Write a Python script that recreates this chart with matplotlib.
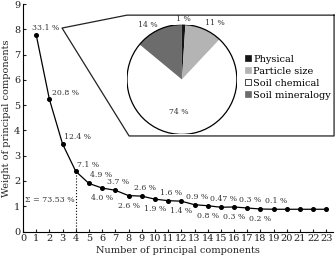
import numpy as np
import matplotlib.pyplot as plt
from matplotlib.lines import Line2D
from matplotlib.patches import Circle

plt.rcParams['font.family'] = ['DejaVu Serif']

#%% data
components = np.arange(1, 24)
weights = [7.78, 5.23, 3.46, 2.38, 1.90, 1.72, 1.63, 1.42, 1.40, 1.28, 1.22, 1.20,
           1.06, 1.02, 0.96, 0.97, 0.93, 0.89, 0.88, 0.88, 0.88, 0.88, 0.88]
variance_labels = ['33.1 %', '20.8 %', '12.4 %', '7.1 %', '4.9 %', '4.0 %', '3.7 %',
                   '2.6 %', '2.6 %', '1.9 %', '1.6 %', '1.4 %', '0.9 %', '0.8 %',
                   '0.47 %', '0.3 %', '0.3 %', '0.2 %', '0.1 %']
cum_label = 'Σ = 73.53 %'
n_kept = 4

groups = ['Physical', 'Particle size', 'Soil chemical', 'Soil mineralogy']
group_share = [1, 11, 74, 14]
group_colors = ['#151515', '#b4b4b4', 'white', '#6c6c6c']

#%% main plot
fig = plt.figure(figsize=(3.36, 2.61), dpi=100)
ax = fig.add_axes([0.0685, 0.113, 0.9226, 0.8716])

ax.plot(components, weights, color='k', lw=0.9, marker='o', ms=2.6)
ax.plot([n_kept, n_kept], [0, weights[n_kept - 1]], color='k', ls=':', lw=0.8)

# label offsets in points (dx, dy) and alignment
for i, lab in enumerate(variance_labels):
    if i < 4:
        off, ha = [(-3, 2), (2, 2), (1, 2), (1, 2)][i], 'left'
    elif i == 4:
        off, ha = (9, 3), 'center'
    elif i % 2 == 0:
        off, ha = (2, 3), 'center'
    else:
        off, ha = (0, -10), 'center'
    ax.annotate(lab, (components[i], weights[i]), xytext=off, textcoords='offset points',
                ha=ha, va='bottom', fontsize=5.6, color='#333')

ax.text(0.15, 1.25, cum_label, fontsize=5.7, color='#333', va='center')

ax.set_xlim(0, 23.5)
ax.set_ylim(0, 9)
ax.set_xticks(range(0, 24))
ax.set_yticks(range(0, 10))
ax.tick_params(direction='in', length=2.5, width=0.8, labelsize=7, pad=2, colors='#222')
for s in ['top', 'right']:
    ax.spines[s].set_visible(False)
ax.set_xlabel('Number of principal components', fontsize=7, labelpad=2, color='#222')
ax.set_ylabel('Weight of principal components', fontsize=7, labelpad=2, color='#222')

# callout box
ax.plot([23.58, 7.88, 2.96, 8.04, 23.58, 23.58], [8.56, 8.56, 8.05, 3.78, 3.78, 8.56],
        color='#222', lw=0.9, clip_on=False)

#%% pie inset
pax = fig.add_axes([0.378, 0.485, 0.327, 0.421])
wedges, _ = pax.pie(group_share, colors=group_colors, startangle=90, counterclock=False,
                    wedgeprops={'edgecolor': 'none'})
pax.add_patch(Circle((0, 0), 1, fill=False, ec='k', lw=0.9))
pax.set_xlim(-1, 1)
pax.set_ylim(-1, 1)
pax.set_aspect('equal')
pie_txt = [(0.03, 1.1), (0.6, 1.03), (-0.05, -0.6), (-0.62, 1.0)]
for (tx, ty), v in zip(pie_txt, group_share):
    pax.text(tx, ty, f'{v} %', fontsize=5.6, ha='center', va='center', color='#333', clip_on=False)

handles = [Line2D([], [], ls='', marker='s', ms=3.8, mfc=c, mec='k' if c == 'white' else c, mew=0.5)
           for c in group_colors]
fig.legend(handles, groups, loc='upper left', bbox_to_anchor=(0.733, 0.79), frameon=False,
           fontsize=7, handlelength=0.45, handletextpad=0.25, labelspacing=0.3,
           borderpad=0, borderaxespad=0)

fig.savefig('out.png', dpi=100)
